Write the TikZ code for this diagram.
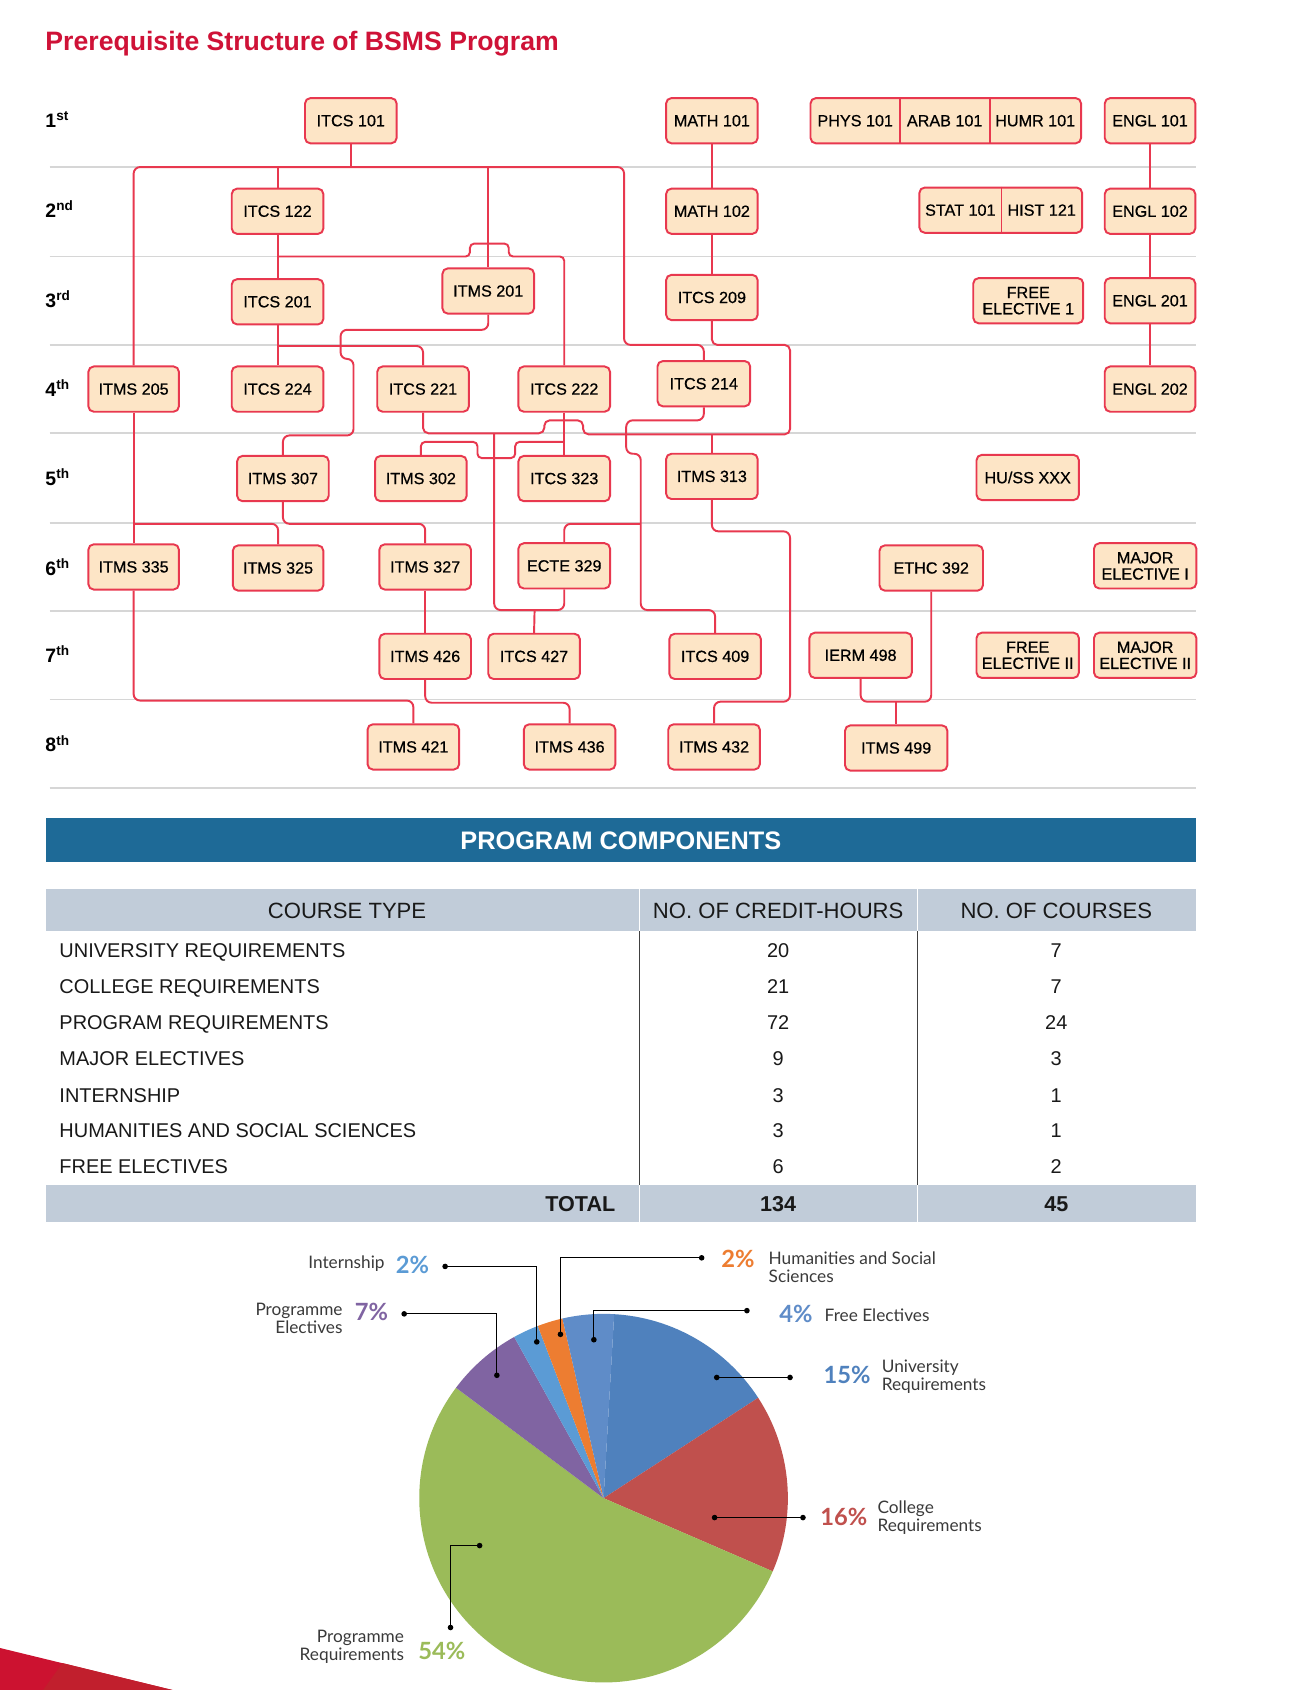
\documentclass[tikz,border=0pt]{standalone}
\usepackage{fontspec}
\setmainfont{Liberation Sans}
\newfontfamily\boxfont{Liberation Sans}[FakeBold=0.6]
\newfontfamily\piefont{Lato}
\usetikzlibrary{calc}
\pgfdeclarelayer{background}
\pgfsetlayers{background,main}
\definecolor{cred}{HTML}{E8384F}
\definecolor{cpeach}{HTML}{FDE5C6}
\definecolor{cgrid}{HTML}{D6D6D6}
\definecolor{ctitle}{HTML}{CF1237}
\definecolor{cbanner}{HTML}{1E6A97}
\definecolor{chead}{HTML}{C1CCD9}
\definecolor{cuniv}{HTML}{4F81BD}
\definecolor{ccoll}{HTML}{C0504D}
\definecolor{cprog}{HTML}{9BBB59}
\definecolor{celec}{HTML}{8064A2}
\definecolor{cintern}{HTML}{5B9BD5}
\definecolor{chu}{HTML}{ED7D31}
\definecolor{cfree}{HTML}{5F8CC8}
\definecolor{clabel}{HTML}{3A3A3A}
\definecolor{cdeco}{HTML}{CC1230}
\definecolor{cdecob}{HTML}{C11F2D}
\begin{document}
\begin{tikzpicture}[x=1pt,y=-1pt,
  course/.style={draw=cred, fill=cpeach, line width=1.8pt, rounded corners=5pt,
    minimum width=85pt, minimum height=42pt, inner sep=0pt, align=center,
    font=\boxfont\fontsize{15}{15}\selectfont},
  celltext/.style={inner sep=0pt, minimum width=#1, font=\boxfont\fontsize{15}{15}\selectfont},
  cline/.style={draw=cred, line width=1.8pt, rounded corners=6pt},
  gridline/.style={draw=cgrid, line width=1.6pt},
  rowlab/.style={anchor=base west, inner sep=0pt, font=\bfseries\fontsize{18}{18}\selectfont},
  thead/.style={anchor=base, inner sep=0pt, font=\fontsize{20.5}{20.5}\selectfont, text=black!90},
  tcell/.style={anchor=base, inner sep=0pt, font=\fontsize{18.5}{18.5}\selectfont, text=black!90},
  ttot/.style={anchor=base, inner sep=0pt, font=\bfseries\fontsize{20}{20}\selectfont, text=black!90},
  plab/.style={inner sep=0pt, font=\piefont\fontsize{16}{16.5}\selectfont, text=clabel},
  pct/.style={anchor=west, inner sep=0pt, font=\piefont\bfseries\fontsize{22}{22}\selectfont},
  leader/.style={draw=black, line width=0.9pt},
  dot/.style={fill=black}
]
\useasboundingbox (0,0) rectangle (1199,1568);

% ---------- title
\node[anchor=base west, inner sep=0pt, font=\bfseries\fontsize{24.7}{24.7}\selectfont, text=ctitle] (title) at (42,46.5) {Prerequisite Structure of BSMS Program};

% ---------- semester labels
\node[rowlab] (s1) at (42,118.5) {1\textsuperscript{st}};
\node[rowlab] (s2) at (42,201.5) {2\textsuperscript{nd}};
\node[rowlab] (s3) at (42,285.5) {3\textsuperscript{rd}};
\node[rowlab] (s4) at (42,367.5) {4\textsuperscript{th}};
\node[rowlab] (s5) at (42,450.5) {5\textsuperscript{th}};
\node[rowlab] (s6) at (42,533.5) {6\textsuperscript{th}};
\node[rowlab] (s7) at (42,614.5) {7\textsuperscript{th}};
\node[rowlab] (s8) at (42,697.5) {8\textsuperscript{th}};

% ---------- course boxes
% Row 1
\node[course] (itcs101) at (325.5,112) {ITCS 101};
\node[course] (math101) at (660.5,112) {MATH 101};
\node[course, minimum width=251pt] (grpa) at (877.5,112) {};
\node[celltext=83pt] (phys101) at (793.5,112) {PHYS 101};
\node[celltext=83pt] (arab101) at (876.5,112) {ARAB 101};
\node[celltext=85pt] (humr101) at (960.5,112) {HUMR 101};
\draw[draw=cred, line width=1.8pt] (phys101.east |- grpa.north) -- (phys101.east |- grpa.south);
\draw[draw=cred, line width=1.8pt] (arab101.east |- grpa.north) -- (arab101.east |- grpa.south);
\node[course, minimum width=84pt] (engl101) at (1067,112) {ENGL 101};

% Row 2
\node[course] (itcs122) at (257.5,196) {ITCS 122};
\node[course] (math102) at (660.5,196) {MATH 102};
\node[course, minimum width=151pt] (grpb) at (928.5,195) {};
\node[celltext=76pt] (stat101) at (891,195) {STAT 101};
\node[celltext=75pt] (hist121) at (966.5,195) {HIST 121};
\draw[draw=cred, line width=1.8pt] (stat101.east |- grpb.north) -- (stat101.east |- grpb.south);
\node[course, minimum width=84pt] (engl102) at (1067,196) {ENGL 102};

% Row 3
\node[course] (itcs201) at (257.5,280) {ITCS 201};
\node[course] (itms201) at (453,270) {ITMS 201};
\node[course] (itcs209) at (660.5,276) {ITCS 209};
\node[course, minimum width=102pt] (free1) at (954,279) {FREE\\ELECTIVE 1};
\node[course, minimum width=84pt] (engl201) at (1067,279) {ENGL 201};

% Row 4
\node[course, minimum width=84pt] (itms205) at (124,361) {ITMS 205};
\node[course] (itcs224) at (257.5,361) {ITCS 224};
\node[course] (itcs221) at (392.5,361) {ITCS 221};
\node[course] (itcs222) at (523.5,361) {ITCS 222};
\node[course, minimum width=86pt] (itcs214) at (653,356) {ITCS 214};
\node[course, minimum width=84pt] (engl202) at (1067,361) {ENGL 202};

% Row 5
\node[course] (itms307) at (262.5,444) {ITMS 307};
\node[course] (itms302) at (390.5,444) {ITMS 302};
\node[course] (itcs323) at (523.5,444) {ITCS 323};
\node[course] (itms313) at (660.5,442) {ITMS 313};
\node[course, minimum width=95pt] (huss) at (953.5,443) {HU/SS XXX};

% Row 6
\node[course, minimum width=84pt] (itms335) at (124,526) {ITMS 335};
\node[course, minimum width=84pt] (itms325) at (258,527) {ITMS 325};
\node[course] (itms327) at (394.5,526) {ITMS 327};
\node[course] (ecte329) at (523.5,525) {ECTE 329};
\node[course, minimum width=96pt] (ethc392) at (864,527) {ETHC 392};
\node[course, minimum width=95pt] (majel1) at (1062.5,525) {MAJOR\\ELECTIVE I};

% Row 7
\node[course] (itms426) at (394.5,609) {ITMS 426};
\node[course] (itcs427) at (495.5,609) {ITCS 427};
\node[course] (itcs409) at (663.5,609) {ITCS 409};
\node[course, minimum width=95pt] (ierm498) at (798.5,608) {IERM 498};
\node[course, minimum width=95pt] (free2) at (953.5,608) {FREE\\ELECTIVE II};
\node[course, minimum width=95pt] (majel2) at (1062.5,608) {MAJOR\\ELECTIVE II};

% Row 8
\node[course] (itms421) at (383.5,693) {ITMS 421};
\node[course] (itms436) at (528.5,693) {ITMS 436};
\node[course] (itms432) at (662.5,693) {ITMS 432};
\node[course, minimum width=95pt] (itms499) at (831.5,694) {ITMS 499};

% ---------- grid and connectors behind the boxes
\begin{pgfonlayer}{background}
\fill[white] (0,0) rectangle (1199,1568);
\foreach \gy in {155,238,320,402,485,567,649,731}
  \draw[gridline] (46,\gy) -- (1110,\gy);

\draw[cline] (itcs101.south) -- (325.5,155);
\draw[cline] (itms205.north) -- (124,155) -- (579,155) -- (579,320) -- (653,320) -- (itcs214.north);
\draw[cline] (257.5,155) -- (itcs122.north);
\draw[cline] (453,155) -- (itms201.north);
\draw[cline] (itcs122) -- (itcs201);
\draw[cline, rounded corners=4pt] (257.5,238) -- (436,238) -- (436,226) -- (472,226) -- (472,238) -- (523.5,238) -- (itcs222.north);
\draw[cline] (itcs201) -- (itcs224);
\draw[cline] (257.5,321) -- (392.5,321) -- (itcs221.north);
\draw[cline] (itms201.south) -- (453,306) -- (316,306) -- (316,333) -- (328,333) -- (328,404) -- (262.5,404) -- (itms307.north);
\draw[cline, rounded corners=5pt] (itcs221.south) -- (392.5,402) -- (505,402) -- (505,390) -- (541,390) -- (541,403) -- (733,403) -- (733,320) -- (660.5,320) -- (itcs209.south);
\draw[cline] (660.5,403) -- (itms313.north);
\draw[cline] (458.5,402) -- (458.5,566) -- (523.5,566) -- (ecte329.south);
\draw[cline] (496,566) -- (itcs427.north);
\draw[cline] (itcs222) -- (itcs323);
\draw[cline, rounded corners=4pt] (523.5,410) -- (478,410) -- (478,425) -- (443,425) -- (443,410) -- (390.5,410) -- (itms302.north);
\draw[cline] (itcs214.south) -- (653,390) -- (581,390) -- (581,421) -- (594.5,421) -- (594.5,566) -- (663.5,566) -- (itcs409.north);
\draw[cline] (594.5,486) -- (523.5,486) -- (ecte329.north);
\draw[cline] (itms313.south) -- (660.5,493) -- (733,493) -- (733,651) -- (662.5,651) -- (itms432.north);
\draw[cline] (itms205) -- (itms335);
\draw[cline] (124,486) -- (258,486) -- (itms325.north);
\draw[cline] (itms307.south) -- (262.5,486) -- (394.5,486) -- (itms327.north);
\draw[cline] (itms327) -- (itms426);
\draw[cline] (itms335.south) -- (124,650) -- (383.5,650) -- (itms421.north);
\draw[cline] (itms426.south) -- (394.5,652) -- (528.5,652) -- (itms436.north);
\draw[cline] (ierm498.south) -- (798.5,651) -- (864,651) -- (ethc392.south);
\draw[cline] (831.5,651) -- (itms499.north);
\draw[cline] (math101) -- (math102);
\draw[cline] (math102) -- (itcs209);
\draw[cline] (engl101) -- (engl102);
\draw[cline] (engl102) -- (engl201);
\draw[cline] (engl201) -- (engl202);
\end{pgfonlayer}

% ---------- program components table
\fill[cbanner] (43,759) rectangle (1110,800);
\node[anchor=base, inner sep=0pt, font=\bfseries\fontsize{23.5}{23.5}\selectfont, text=white] (banner) at (576,788.5) {PROGRAM COMPONENTS};

\fill[chead] (43,825) rectangle (1110,864);
\fill[chead] (43,1099) rectangle (1110,1134);
\draw[white, line width=1.2pt] (593,825) -- (593,864) (851,825) -- (851,864);
\draw[white, line width=1.2pt] (593,1099) -- (593,1134) (851,1099) -- (851,1134);
\draw[black!75, line width=0.9pt] (593,864) -- (593,1099) (851,864) -- (851,1099);

\node[thead] (hA) at (322,852.5) {COURSE TYPE};
\node[thead] (hB) at (722,852.5) {NO. OF CREDIT-HOURS};
\node[thead] (hC) at (980,852.5) {NO. OF COURSES};

\node[tcell, anchor=base west] (r1a) at (55,888.5) {UNIVERSITY REQUIREMENTS};
\node[tcell] (r1b) at (722,888.5) {20};
\node[tcell] (r1c) at (980,888.5) {7};
\node[tcell, anchor=base west] (r2a) at (55,921.5) {COLLEGE REQUIREMENTS};
\node[tcell] (r2b) at (722,921.5) {21};
\node[tcell] (r2c) at (980,921.5) {7};
\node[tcell, anchor=base west] (r3a) at (55,955.5) {PROGRAM REQUIREMENTS};
\node[tcell] (r3b) at (722,955.5) {72};
\node[tcell] (r3c) at (980,955.5) {24};
\node[tcell, anchor=base west] (r4a) at (55,988.5) {MAJOR ELECTIVES};
\node[tcell] (r4b) at (722,988.5) {9};
\node[tcell] (r4c) at (980,988.5) {3};
\node[tcell, anchor=base west] (r5a) at (55,1022.5) {INTERNSHIP};
\node[tcell] (r5b) at (722,1022.5) {3};
\node[tcell] (r5c) at (980,1022.5) {1};
\node[tcell, anchor=base west] (r6a) at (55,1055.5) {HUMANITIES AND SOCIAL SCIENCES};
\node[tcell] (r6b) at (722,1055.5) {3};
\node[tcell] (r6c) at (980,1055.5) {1};
\node[tcell, anchor=base west] (r7a) at (55,1088.5) {FREE ELECTIVES};
\node[tcell] (r7b) at (722,1088.5) {6};
\node[tcell] (r7c) at (980,1088.5) {2};

\node[ttot, anchor=base east] (tA) at (571,1124) {TOTAL};
\node[ttot] (tB) at (722,1124) {134};
\node[ttot] (tC) at (980,1124) {45};

% ---------- pie chart
\coordinate (pc) at (560,1390);
\fill[cuniv]   (pc) -- ++(33:171pt)    arc[start angle=33,    end angle=86.7,  radius=171pt] -- cycle;
\fill[ccoll]   (pc) -- ++(-23.4:171pt) arc[start angle=-23.4, end angle=33,    radius=171pt] -- cycle;
\fill[cprog]   (pc) -- ++(143.2:171pt) arc[start angle=143.2, end angle=336.6, radius=171pt] -- cycle;
\fill[celec]   (pc) -- ++(119:171pt)   arc[start angle=119,   end angle=143.2, radius=171pt] -- cycle;
\fill[cintern] (pc) -- ++(110.9:171pt) arc[start angle=110.9, end angle=119,   radius=171pt] -- cycle;
\fill[chu]     (pc) -- ++(102.9:171pt) arc[start angle=102.9, end angle=110.9, radius=171pt] -- cycle;
\fill[cfree]   (pc) -- ++(86.7:171pt)  arc[start angle=86.7,  end angle=102.9, radius=171pt] -- cycle;

% leader end points
\coordinate (dIa) at (413,1175);  \coordinate (dIb) at (498,1245);
\coordinate (dHa) at (651,1167);  \coordinate (dHb) at (520,1238);
\coordinate (dFa) at (693,1216);  \coordinate (dFb) at (551,1243);
\coordinate (dEa) at (375,1219);  \coordinate (dEb) at (461,1276);
\coordinate (dUa) at (733,1278);  \coordinate (dUb) at (665,1278);
\coordinate (dCa) at (745,1408);  \coordinate (dCb) at (663,1408);
\coordinate (dPa) at (418,1510);  \coordinate (dPb) at (445,1434);

\draw[leader] (dIa) -| (dIb);
\draw[leader] (dHa) -| (dHb);
\draw[leader] (dFa) -| (dFb);
\draw[leader] (dEa) -| (dEb);
\draw[leader] (dUa) -- (dUb);
\draw[leader] (dCa) -- (dCb);
\draw[leader] (dPa) |- (dPb);
\foreach \d in {dIa,dIb,dHa,dHb,dFa,dFb,dEa,dEb,dUa,dUb,dCa,dCb,dPa,dPb}
  \fill[dot] (\d) circle[radius=2.6pt];

% pie labels
\node[plab, anchor=east] (lInt) at (357,1172) {Internship};
\node[pct, text=cintern] (pInt) at (367,1174) {2\%};
\node[pct, text=chu] (pHu) at (669,1168) {2\%};
\node[plab, anchor=west, align=left] (lHu) at (713,1176) {Humanities and Social\\Sciences};
\node[pct, text=cfree] (pFree) at (723,1219) {4\%};
\node[plab, anchor=west] (lFree) at (765,1220) {Free Electives};
\node[pct, text=celec] (pElec) at (329,1217) {7\%};
\node[plab, anchor=east, align=right] (lElec) at (318,1223) {Programme\\Electives};
\node[pct, text=cuniv] (pUniv) at (764,1276) {15\%};
\node[plab, anchor=west, align=left] (lUniv) at (818,1277) {University\\Requirements};
\node[pct, text=ccoll] (pColl) at (761,1407) {16\%};
\node[plab, anchor=west, align=left] (lColl) at (814,1408) {College\\Requirements};
\node[plab, anchor=east, align=right] (lProg) at (375,1528) {Programme\\Requirements};
\node[pct, text=cprog] (pProg) at (388,1532) {54\%};

% ---------- corner decoration
\fill[cdeco] (0,1529) -- (160,1568) -- (0,1568) -- cycle;
\fill[cdecob] (58,1543) -- (160,1568) -- (40,1568) -- cycle;
\end{tikzpicture}
\end{document}
